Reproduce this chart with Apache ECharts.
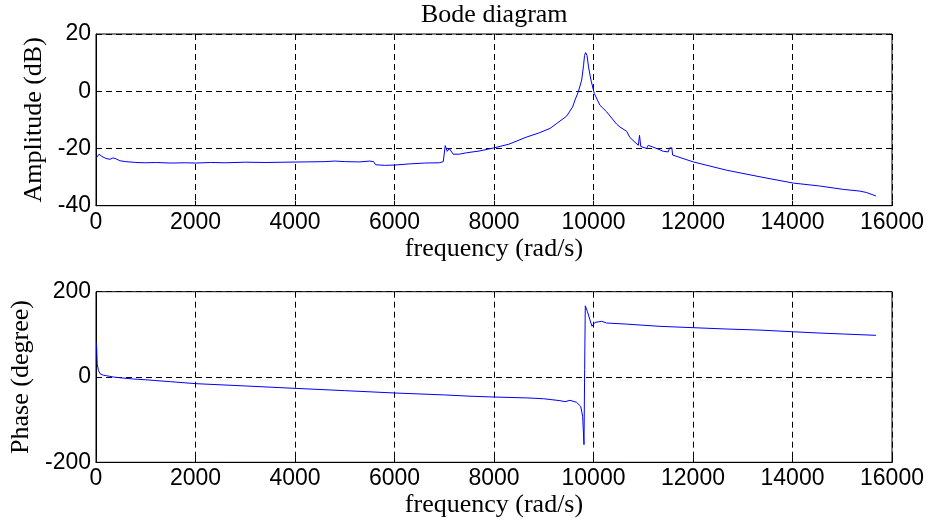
<!DOCTYPE html>
<html>
<head>
<meta charset="utf-8">
<script src="https://cdn.jsdelivr.net/npm/echarts@6/dist/echarts.min.js"></script>
<style>html,body{margin:0;padding:0;background:#fff}#c{width:932px;height:523px}</style>
</head>
<body>
<div id="c"></div>
<script>
// ---- data ----
const xTicks = [0, 2000, 4000, 6000, 8000, 10000, 12000, 14000, 16000];
const ampTicks = [-40, -20, 0, 20];
const phaseTicks = [-200, 0, 200];

const ampFreq = [10, 60, 120, 200, 280, 340, 400, 480, 600, 800, 1000, 1200, 1500, 1800, 2000, 2300, 2600, 3000, 3400, 3800, 4200, 4600, 4800, 5000, 5300, 5500, 5580, 5620, 5800, 6000, 6300, 6600, 6900, 6980, 7020, 7060, 7100, 7180, 7300, 7450, 7700, 8000, 8300, 8656, 8900, 9125, 9259, 9460, 9580, 9628, 9695, 9762, 9800, 9820, 9842, 9870, 9900, 9949, 10016, 10130, 10264, 10465, 10532, 10666, 10733, 10901, 10925, 10950, 11068, 11100, 11135, 11269, 11403, 11503, 11530, 11575, 11590, 12006, 12676, 13346, 14016, 14540, 14560, 14580, 15021, 15356, 15490, 15678];
const ampDb = [-23.2, -22.0, -22.8, -23.5, -23.8, -23.3, -23.6, -24.3, -24.6, -24.9, -25.0, -24.9, -25.1, -25.0, -25.1, -24.9, -25.0, -24.8, -24.9, -24.8, -24.7, -24.6, -24.4, -24.6, -24.7, -24.4, -24.6, -25.7, -25.9, -25.8, -25.4, -25.1, -25.0, -24.6, -19.0, -21.0, -20.0, -22.0, -22.0, -21.5, -20.9, -19.8, -18.5, -16.0, -14.6, -13.0, -11.3, -8.7, -5.5, -3.1, -0.2, 3.9, 9.0, 12.5, 13.5, 12.5, 8.5, 3.9, -0.8, -4.9, -7.2, -11.5, -12.5, -14.0, -16.2, -18.9, -15.4, -19.3, -20.0, -18.9, -19.2, -20.0, -21.0, -21.2, -19.8, -19.8, -22.3, -24.7, -27.6, -29.9, -32.1, -33.1, -32.8, -33.3, -34.3, -34.9, -35.4, -36.6];

const phaseFreq = [10, 25, 50, 80, 150, 214, 348, 500, 750, 1000, 1500, 2000, 3000, 4000, 5000, 6000, 7000, 7517, 8000, 8656, 9000, 9326, 9427, 9527, 9661, 9742, 9782, 9809, 9822, 9835, 9876, 9929, 9969, 10029, 10164, 10264, 10666, 11336, 12006, 12676, 13346, 14016, 14552, 15021, 15678];
const phaseDeg = [80, 30, 15, 7.8, 4, 3, 0, -2, -4.7, -6.5, -11, -15.6, -21, -26.6, -32, -37.5, -42, -45, -47, -49, -51, -55.5, -57.8, -54.7, -59.4, -68.8, -92, -158.6, 17, 167, 154, 134, 119, 128, 130.5, 126.6, 124, 118.8, 115.6, 112.5, 110, 106, 103, 100.8, 97.7];

// ---- chart ----
const serif = '"Liberation Serif", "Times New Roman", serif';
const sans = '"Liberation Sans", Arial, sans-serif';
const dash = {color: '#000', width: 1, type: [6, 4]};
const plain = v => String(v);

function xAx(gi) {
  return {
    type: 'value', gridIndex: gi, min: xTicks[0], max: xTicks[xTicks.length - 1],
    interval: xTicks[1] - xTicks[0],
    name: 'frequency (rad/s)', nameLocation: 'middle', nameGap: 30,
    nameTextStyle: {fontFamily: serif, fontSize: 26, color: '#000'},
    axisLine: {show: true, onZero: false, lineStyle: {color: '#000', width: 1}},
    axisTick: {show: true, inside: true, length: 5, lineStyle: {color: '#000'}},
    axisLabel: {fontFamily: sans, fontSize: 23, color: '#000', margin: 5, formatter: plain},
    splitLine: {show: true, lineStyle: dash}
  };
}
function yAx(gi, ticks, name) {
  return {
    type: 'value', gridIndex: gi, min: ticks[0], max: ticks[ticks.length - 1],
    interval: ticks[1] - ticks[0],
    name: name, nameLocation: 'middle', nameGap: 40, nameRotate: 90,
    nameTextStyle: {fontFamily: serif, fontSize: 26, color: '#000'},
    axisLine: {show: true, onZero: false, lineStyle: {color: '#000', width: 1}},
    axisTick: {show: true, inside: true, length: 5, lineStyle: {color: '#000'}},
    axisLabel: {fontFamily: sans, fontSize: 23, color: '#000', margin: 5, formatter: plain},
    splitLine: {show: true, lineStyle: dash}
  };
}

const chart = echarts.init(document.getElementById('c'), null, {renderer: 'canvas'});
chart.setOption({
  animation: false,
  backgroundColor: '#fff',
  title: {
    text: 'Bode diagram', left: 421, top: 2, padding: 0,
    textStyle: {fontFamily: serif, fontSize: 26, fontWeight: 'normal', color: '#000'}
  },
  grid: [
    {left: 96, right: 40, top: 34, height: 171.7, show: true, borderColor: '#000', borderWidth: 1, backgroundColor: '#fff'},
    {left: 96, right: 40, top: 291.7, height: 170.6, show: true, borderColor: '#000', borderWidth: 1, backgroundColor: '#fff'}
  ],
  xAxis: [xAx(0), xAx(1)],
  yAxis: [yAx(0, ampTicks, 'Amplitude (dB)'), yAx(1, phaseTicks, 'Phase (degree)')],
  series: [
    {type: 'line', xAxisIndex: 0, yAxisIndex: 0, showSymbol: false, symbol: 'none',
     lineStyle: {color: '#0000ff', width: 1}, data: ampFreq.map((f, i) => [f, ampDb[i]])},
    {type: 'line', xAxisIndex: 1, yAxisIndex: 1, showSymbol: false, symbol: 'none',
     lineStyle: {color: '#0000ff', width: 1}, data: phaseFreq.map((f, i) => [f, phaseDeg[i]])}
  ]
});
</script>
</body>
</html>
